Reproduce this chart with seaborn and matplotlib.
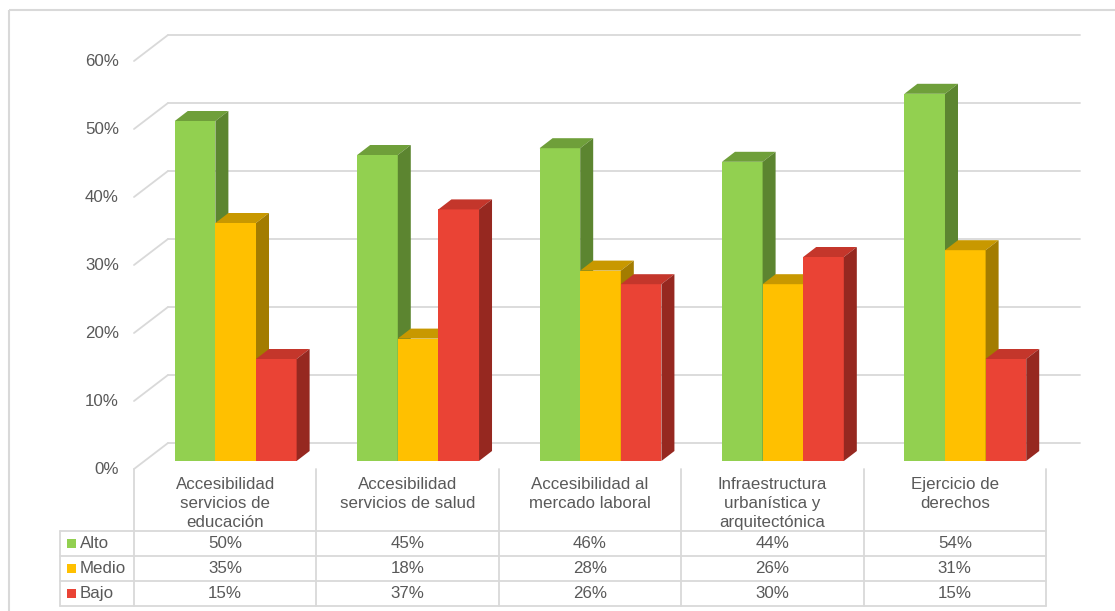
import matplotlib
matplotlib.use("Agg")
import matplotlib.pyplot as plt
from matplotlib.patches import Polygon, Rectangle
from matplotlib.transforms import blended_transform_factory
import seaborn as sns
import pandas as pd

# ---- data ----
categories = [
    "Accesibilidad\nservicios de\neducación",
    "Accesibilidad\nservicios de salud",
    "Accesibilidad al\nmercado laboral",
    "Infraestructura\nurbanística y\narquitectónica",
    "Ejercicio de\nderechos",
]
levels = ["Alto", "Medio", "Bajo"]
alto = [50, 45, 46, 44, 54]
medio = [35, 18, 28, 26, 31]
bajo = [15, 37, 26, 30, 15]
y_ticks = [0, 10, 20, 30, 40, 50, 60]

# ---- style ----
front_colors = ["#92D050", "#FFC000", "#EA4335"]
top_colors = ["#6F9F3A", "#C89800", "#C4362B"]
side_colors = ["#5C8530", "#A37C00", "#962820"]
grid_color = "#D9D9D9"
text_color = "#595959"
fs = 12.2

sns.set_theme(style="white")
plt.rcParams["font.family"] = ["Liberation Sans", "DejaVu Sans"]

W, H = 1115, 611
fig = plt.figure(figsize=(W / 100, H / 100), dpi=100)

# overlay in pixel coordinates for frame and table
fx = fig.add_axes([0, 0, 1, 1])
fx.set_xlim(0, W)
fx.set_ylim(H, 0)
fx.axis("off")

# front plane of the plot: x from 134 to 1046 px, y (0..60) from 469 to 61 px
x_left, x_right = 134, 1046
y_zero, y_top = 469, 61
ax = fig.add_axes([x_left / W, (H - y_zero) / H, (x_right - x_left) / W, (y_zero - y_top) / H])

df = pd.DataFrame({
    "cat": categories * 3,
    "level": [levels[0]] * 5 + [levels[1]] * 5 + [levels[2]] * 5,
    "val": alto + medio + bajo,
})
sns.barplot(data=df, x="cat", y="val", hue="level", hue_order=levels,
            palette=front_colors, saturation=1, width=0.668, legend=False,
            ax=ax, linewidth=0, errorbar=None)
ax.set_xlim(-0.5, len(categories) - 0.5)
ax.set_ylim(0, 60)
ax.axis("off")

# pixel -> data unit conversions
px_x = (len(categories)) / (x_right - x_left)
px_y = 60 / (y_zero - y_top)

# depth offsets (pixels): wall depth and bar placement inside it
wall_dx, wall_dy = 34, 26
bar_front_dx, bar_front_dy = 10.5, 8
bar_dx, bar_dy = 13, 10

# gridlines: back wall and left side wall
x0, x1 = -0.5, len(categories) - 0.5
for t in y_ticks:
    bx0 = x0 + wall_dx * px_x
    bx1 = x1 + wall_dx * px_x
    by = t + wall_dy * px_y
    ax.plot([bx0, bx1], [by, by], color=grid_color, lw=1.3, zorder=1, clip_on=False)
    ax.plot([x0, bx0], [t, by], color=grid_color, lw=1.3, zorder=1, clip_on=False)
    ax.text(x0 - 15 * px_x, t, f"{t}%", ha="right", va="center",
            fontsize=fs, color=text_color)

# 3D bars: shift front faces, add top and side faces
n = len(categories)
for idx, patch in enumerate(ax.patches):
    j = idx // n
    xb = patch.get_x() + bar_front_dx * px_x
    wb = patch.get_width()
    yb = bar_front_dy * px_y
    patch.set_x(xb)
    patch.set_y(yb)
    patch.set_zorder(2 + j)
    ddx, ddy = bar_dx * px_x, bar_dy * px_y
    top_y = yb + patch.get_height()
    top = Polygon([(xb, top_y), (xb + wb, top_y), (xb + wb + ddx, top_y + ddy), (xb + ddx, top_y + ddy)],
                  closed=True, facecolor=top_colors[j], edgecolor="none", zorder=2 + j, clip_on=False)
    side = Polygon([(xb + wb, yb), (xb + wb, top_y), (xb + wb + ddx, top_y + ddy), (xb + wb + ddx, yb + ddy)],
                   closed=True, facecolor=side_colors[j], edgecolor="none", zorder=2 + j, clip_on=False)
    ax.add_patch(top)
    ax.add_patch(side)
    patch.set_clip_on(False)

# outer frame
fx.add_patch(Rectangle((9, 10), W + 20, H + 20, fill=False, edgecolor=grid_color, lw=1.5))

# data table below the plot
tr = blended_transform_factory(ax.transData, fx.transData)
row_lines = [531, 556, 581, 606]
row_centers = [543.5, 568.5, 593.5]
legend_left = 60
for y in row_lines:
    fx.plot([legend_left, x_right], [y, y], color=grid_color, lw=1.3)
for k in range(n + 1):
    fx.plot([x0 + k, x0 + k], [y_zero, 606], color=grid_color, lw=1.3, transform=tr)
fx.plot([legend_left, legend_left], [531, 606], color=grid_color, lw=1.3)

for k, cat in enumerate(categories):
    fx.text(k, 477, cat, ha="center", va="top", fontsize=fs, color=text_color,
            linespacing=1.33, transform=tr)

series = [alto, medio, bajo]
for j, (lvl, vals) in enumerate(zip(levels, series)):
    yc = row_centers[j]
    fx.add_patch(Rectangle((67, yc - 5), 9, 9, facecolor=front_colors[j], edgecolor="none"))
    fx.text(80, yc, lvl, ha="left", va="center", fontsize=fs, color=text_color)
    for k, v in enumerate(vals):
        fx.text(k, yc, f"{v}%", ha="center", va="center", fontsize=fs,
                color=text_color, transform=tr)

fig.savefig("out.png", dpi=100)
